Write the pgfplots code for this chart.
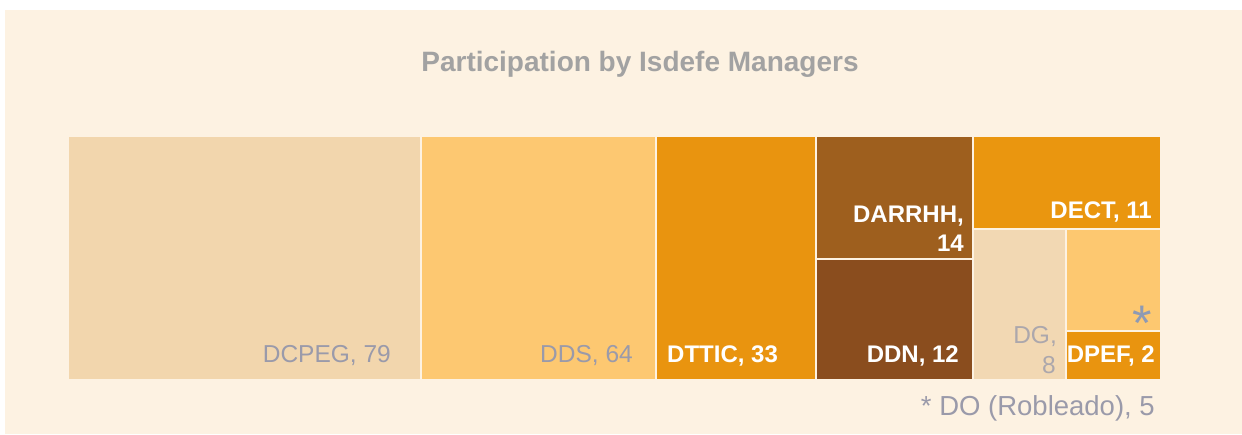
\documentclass[border=0pt]{standalone}
\usepackage{pgfplots}
\pgfplotsset{compat=1.18}
\usepackage{fontspec}
\setmainfont{Liberation Sans}
\definecolor{bg}{HTML}{FDF2E2}
\definecolor{cDCPEG}{HTML}{F2D6AD}
\definecolor{cDDS}{HTML}{FDC871}
\definecolor{cDTTIC}{HTML}{E9940F}
\definecolor{cDARRHH}{HTML}{9E5F1E}
\definecolor{cDDN}{HTML}{8A4D1E}
\definecolor{cDECT}{HTML}{EA960F}
\definecolor{cDG}{HTML}{F2D8B3}
\definecolor{cDO}{HTML}{FDC870}
\definecolor{cDPEF}{HTML}{E9940F}
\definecolor{lblgrey}{HTML}{9A9AAA}
\definecolor{titlegrey}{HTML}{A2A2A2}
\definecolor{stargrey}{HTML}{8E9AB4}
\begin{document}
\begin{tikzpicture}
\begin{axis}[
  width=1242pt, height=434pt, scale only axis,
  xmin=0, xmax=1242, ymin=0, ymax=434, y dir=reverse,
  hide axis, clip=false,
]
% background panel
\addplot[fill=white, draw=none] coordinates {(0,0) (1242,0) (1242,434) (0,434)} --cycle;
\addplot[fill=bg, draw=none] coordinates {(5,10) (1242,10) (1242,434) (5,434)} --cycle;
% treemap cells (pixel rectangles)
\addplot[fill=cDCPEG, draw=none] coordinates {(69,137) (420,137) (420,379) (69,379)} --cycle;
\addplot[fill=cDDS, draw=none] coordinates {(422,137) (655,137) (655,379) (422,379)} --cycle;
\addplot[fill=cDTTIC, draw=none] coordinates {(657,137) (815,137) (815,379) (657,379)} --cycle;
\addplot[fill=cDARRHH, draw=none] coordinates {(817,137) (972,137) (972,258) (817,258)} --cycle;
\addplot[fill=cDDN, draw=none] coordinates {(817,260) (972,260) (972,379) (817,379)} --cycle;
\addplot[fill=cDECT, draw=none] coordinates {(974,137) (1160,137) (1160,228) (974,228)} --cycle;
\addplot[fill=cDG, draw=none] coordinates {(974,230) (1065,230) (1065,379) (974,379)} --cycle;
\addplot[fill=cDO, draw=none] coordinates {(1067,230) (1160,230) (1160,330) (1067,330)} --cycle;
\addplot[fill=cDPEF, draw=none] coordinates {(1067,332) (1160,332) (1160,379) (1067,379)} --cycle;
% title
\node[anchor=base, text=titlegrey, font=\fontsize{28}{32}\selectfont\bfseries, inner sep=0pt] at (axis cs:640,71) {Participation by Isdefe Managers};
% labels
\tikzset{lbl/.style={inner sep=0pt, font=\fontsize{24.5}{28}\selectfont},
         wlbl/.style={inner sep=0pt, text=white, font=\fontsize{24}{28}\selectfont\bfseries}}
\node[lbl, anchor=base east, text=lblgrey] at (axis cs:391,362) {DCPEG, 79};
\node[lbl, anchor=base east, text=lblgrey] at (axis cs:633,362) {DDS, 64};
\node[wlbl, anchor=base west] at (axis cs:667,362) {DTTIC, 33};
\node[wlbl, anchor=base east] at (axis cs:964,222) {DARRHH,};
\node[wlbl, anchor=base east] at (axis cs:964,251) {14};
\node[wlbl, anchor=base east] at (axis cs:959,362) {DDN, 12};
\node[wlbl, anchor=base east] at (axis cs:1152,218) {DECT, 11};
\node[lbl, anchor=base east, text=lblgrey!80!cDG] at (axis cs:1057,343) {DG,};
\node[lbl, anchor=base east, text=lblgrey!80!cDG] at (axis cs:1056,373) {8};
\node[wlbl, anchor=base east] at (axis cs:1155,362) {DPEF, 2};
\node[inner sep=0pt, anchor=base east, text=stargrey, font=\fontsize{50}{54}\selectfont] at (axis cs:1152,340) {*};
\node[inner sep=0pt, anchor=base east, text=lblgrey, font=\fontsize{27.5}{31}\selectfont] at (axis cs:1155,415) {* DO (Robleado), 5};
\end{axis}
\useasboundingbox (0,0) rectangle (1242pt,434pt);
\end{tikzpicture}
\end{document}
